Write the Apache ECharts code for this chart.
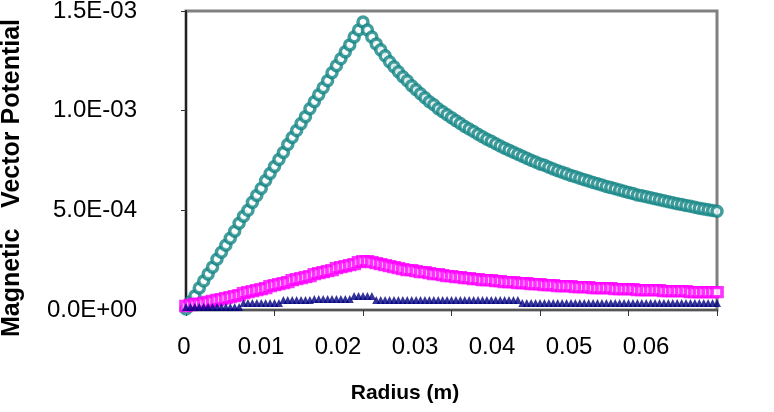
<!DOCTYPE html>
<html>
<head>
<meta charset="utf-8">
<script src="https://cdn.jsdelivr.net/npm/echarts@6/dist/echarts.min.js"></script>
<style>
  html, body { margin: 0; padding: 0; background: #fff; }
  #main { width: 774px; height: 412px; }
</style>
</head>
<body>
<div id="main"></div>
<script>
// radius (m)
var radius = [
    0, 0.0005, 0.001, 0.0015, 0.002, 0.0025, 0.003, 0.0035, 0.004, 0.0045,
    0.005, 0.0055, 0.006, 0.0065, 0.007, 0.0075, 0.008, 0.0085, 0.009, 0.0095,
    0.01, 0.0105, 0.011, 0.0115, 0.012, 0.0125, 0.013, 0.0135, 0.014, 0.0145,
    0.015, 0.0155, 0.016, 0.0165, 0.017, 0.0175, 0.018, 0.0185, 0.019, 0.0195,
    0.02, 0.0205, 0.021, 0.0215, 0.022, 0.0225, 0.023, 0.0235, 0.024, 0.0245,
    0.025, 0.0255, 0.026, 0.0265, 0.027, 0.0275, 0.028, 0.0285, 0.029, 0.0295,
    0.03, 0.0305, 0.031, 0.0315, 0.032, 0.0325, 0.033, 0.0335, 0.034, 0.0345,
    0.035, 0.0355, 0.036, 0.0365, 0.037, 0.0375, 0.038, 0.0385, 0.039, 0.0395,
    0.04, 0.0405, 0.041, 0.0415, 0.042, 0.0425, 0.043, 0.0435, 0.044, 0.0445,
    0.045, 0.0455, 0.046, 0.0465, 0.047, 0.0475, 0.048, 0.0485, 0.049, 0.0495,
    0.05, 0.0505, 0.051, 0.0515, 0.052, 0.0525, 0.053, 0.0535, 0.054, 0.0545,
    0.055, 0.0555, 0.056, 0.0565, 0.057, 0.0575, 0.058, 0.0585, 0.059, 0.0595,
    0.06
];

// vector potential, in units of 1E-05
var tealVals = [
    0.5, 4, 7, 11, 14.5, 18, 21.5, 25.5, 29, 32.5,
    36, 39.5, 43.5, 47, 50, 54, 57.5, 61, 65, 68.5,
    72, 75.5, 79, 83, 86.5, 90, 93.5, 97, 101, 104.5,
    108, 111.5, 115, 119, 122.5, 126, 129.5, 133, 137, 140.5,
    144.5, 140.5, 137, 133.5, 130.5, 127.5, 124.5, 122, 119.5, 117,
    115, 112.5, 110.5, 108.5, 106.5, 104.5, 103, 101, 99.5, 98,
    96.5, 95, 93.6, 92.1, 90.8, 89.5, 88.2, 86.9, 85.7, 84.6,
    83.4, 82.3, 81.2, 80.2, 79.1, 78.1, 77.1, 76.1, 75.1, 74.2,
    73.3, 72.6, 71.6, 70.7, 69.9, 69.1, 68.3, 67.5, 66.8, 66.1,
    65.4, 64.7, 64, 63.3, 62.7, 62, 61.4, 60.8, 60.2, 59.6,
    59, 58.4, 57.7, 57.3, 56.8, 56.3, 55.8, 55.3, 54.8, 54.3,
    53.8, 53.3, 52.9, 52.4, 52, 51.5, 51.1, 50.7, 50.3, 49.9,
    49.5
];
var magentaVals = [
    2, 2.5, 3, 3, 3.5, 4, 4.5, 5, 5.5, 6,
    6.5, 7, 7.5, 8.5, 9, 9.5, 10, 10.5, 11, 12,
    12.5, 13, 13.5, 14, 15, 15.5, 16, 16.5, 17, 18,
    18.5, 19, 19.5, 20, 21, 21.5, 22, 22.5, 23, 24,
    24.5, 24.5, 24, 23.5, 23, 22.5, 22, 21.5, 21, 20.5,
    20, 20, 19.5, 19, 19, 18.5, 18, 18, 17.5, 17,
    17, 16.5, 16.5, 16, 16, 15.5, 15.5, 15, 15, 15,
    14.5, 14.5, 14, 14, 14, 13.5, 13.5, 13.5, 13, 13,
    13, 12.5, 12.5, 12.5, 12, 12, 12, 12, 11.5, 11.5,
    11.5, 11.5, 11, 11, 11, 11, 11, 10.5, 10.5, 10.5,
    10.5, 10.5, 10, 10, 10, 10, 10, 10, 9.5, 9.5,
    9.5, 9.5, 9.5, 9.5, 9, 9, 9, 9, 9, 9,
    9
];
var navyVals = [
    1.5, 1.5, 1.5, 1.5, 1.5, 1.5, 1.5, 1.5, 1.5, 1.5,
    1.5, 1.5, 1.5, 3.5, 3.5, 3.5, 3.5, 3.5, 3.5, 3.5,
    3.5, 3.5, 5, 5, 5, 5, 5, 5, 5, 5.5,
    5.5, 5.5, 5.5, 5.5, 5.5, 5.5, 5.5, 5.5, 7, 7,
    7, 7, 7, 5, 5, 5, 5, 5, 5, 5,
    5, 5, 5, 5, 5, 5, 5, 5, 5, 5,
    5, 5, 5, 5, 5, 5, 5, 5, 5, 5,
    5, 5, 5, 5, 5, 5, 3.5, 3.5, 3.5, 3.5,
    3.5, 3.5, 3.5, 3.5, 3.5, 3.5, 3.5, 3.5, 3.5, 3.5,
    3.5, 3.5, 3.5, 3.5, 3.5, 3.5, 3.5, 3.5, 3.5, 3.5,
    3.5, 3.5, 3.5, 3.5, 3.5, 3.5, 3.5, 3.5, 3.5, 3.5,
    3.5, 3.5, 3.5, 3.5, 3.5, 3.5, 3.5, 3.5, 3.5, 3.5,
    3.5
];

var FONT = 'Liberation Sans, Arial, sans-serif';

function pairs(vals) {
    return radius.map(function (r, i) { return [r, vals[i] * 1e-5]; });
}

// 1.5E-03 style labels
function sci(v) {
    if (v === 0) return '0.0E+00';
    var s = v.toExponential(1).split('e');
    var e = parseInt(s[1], 10);
    var a = Math.abs(e);
    return s[0] + 'E' + (e < 0 ? '-' : '+') + (a < 10 ? '0' : '') + a;
}

var myChart = echarts.init(document.getElementById('main'));

var option = {
    backgroundColor: '#fff',
    animation: false,
    grid: [
        {left: 186, right: 57, top: 11, bottom: 102, show: true, outerBoundsMode: 'none',
         borderColor: '#808080', borderWidth: 3, backgroundColor: '#fff'},
        // only used to place the x tick labels like in the original
        {left: 184, right: 128, top: 11, bottom: 102, outerBoundsMode: 'none'}
    ],
    xAxis: [
        {
            type: 'value', gridIndex: 0, min: 0, max: 0.06, interval: 0.01,
            axisLine: {show: true, onZero: false, lineStyle: {color: '#555', width: 2}},
            axisTick: {show: true, length: 6, lineStyle: {color: '#333', width: 1}},
            axisLabel: {show: false},
            splitLine: {show: false}
        },
        {
            type: 'value', gridIndex: 1, min: 0, max: 0.06, interval: 0.01,
            axisLine: {show: false}, axisTick: {show: false}, splitLine: {show: false},
            axisLabel: {
                margin: 25, color: '#000', fontSize: 24, fontFamily: FONT,
                formatter: function (v) { return v === 0 ? '0' : v.toFixed(2); }
            }
        }
    ],
    yAxis: [
        {
            type: 'value', gridIndex: 0, min: 0, max: 1.5e-3, interval: 5e-4,
            axisLine: {show: true, lineStyle: {color: '#222', width: 2}},
            axisTick: {show: true, length: 5, lineStyle: {color: '#333', width: 1}},
            axisLabel: {margin: 49, color: '#000', fontSize: 24, fontFamily: FONT, formatter: sci},
            splitLine: {show: false}
        },
        {type: 'value', gridIndex: 1, min: 0, max: 1.5e-3, show: false}
    ],
    graphic: [
        {
            type: 'text', x: 12, y: 178, rotation: Math.PI / 2,
            style: {
                text: 'Magnetic   Vector Potential', fill: '#000',
                font: 'bold 25px ' + FONT, align: 'center', verticalAlign: 'middle'
            }
        },
        {
            type: 'text', x: 405, y: 393,
            style: {
                text: 'Radius (m)', fill: '#000',
                font: 'bold 21px ' + FONT, align: 'center', verticalAlign: 'middle'
            }
        }
    ],
    series: [
        {
            name: 'teal', type: 'scatter', data: pairs(tealVals),
            symbol: 'circle', symbolSize: 10,
            itemStyle: {color: '#fff', borderColor: '#138585', borderWidth: 3.5}
        },
        {
            name: 'magenta', type: 'scatter', data: pairs(magentaVals),
            symbol: 'rect', symbolSize: [10, 9],
            itemStyle: {color: '#fff', borderColor: '#ff00ff', borderWidth: 3.5}
        },
        {
            name: 'navy', type: 'scatter', data: pairs(navyVals),
            symbol: 'triangle', symbolSize: 8,
            itemStyle: {color: '#000080'}
        }
    ]
};

myChart.setOption(option);
</script>
</body>
</html>
